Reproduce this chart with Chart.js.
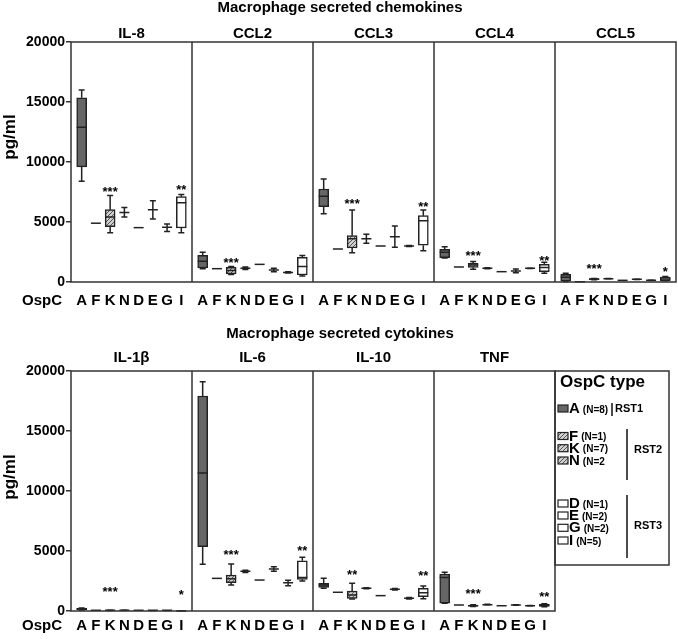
<!DOCTYPE html>
<html>
<head>
<meta charset="utf-8">
<script src="https://cdn.jsdelivr.net/npm/chart.js@4.4.0/dist/chart.umd.min.js"></script>
<style>
  body { margin: 0; background: #fff; }
  #wrap { position: relative; width: 678px; height: 639px; }
  canvas { position: absolute; left: 0; }
  #topChart { top: 0; }
  #bottomChart { top: 310px; }
</style>
</head>
<body>
<div id="wrap">
  <canvas id="topChart" width="678" height="310"></canvas>
  <canvas id="bottomChart" width="678" height="329"></canvas>
</div>
<script>
var categories = ['A', 'F', 'K', 'N', 'D', 'E', 'G', 'I'];
var nLabels = ['(N=8)', '(N=1)', '(N=7)', '(N=2', '(N=1)', '(N=2)', '(N=2)', '(N=5)'];
var chemokines = ['IL-8', 'CCL2', 'CCL3', 'CCL4', 'CCL5'];
var cytokines = ['IL-1β', 'IL-6', 'IL-10', 'TNF'];
var yTicks = [0, 5000, 10000, 15000, 20000];

// [min, q1, median, q3, max] per OspC type, pg/ml
var il8 = [[8400, 9600, 12900, 15350, 16000], [4900, 4900, 4900, 4900, 4900], [4110, 4610, 5420, 6030, 7200], [5420, 5800, 5800, 5800, 6200],
           [4530, 4530, 4530, 4530, 4530], [5250, 6030, 6030, 6030, 6780], [4200, 4560, 4560, 4560, 4830], [4110, 4500, 6610, 7110, 7300]];
var ccl2 = [[1100, 1170, 1720, 2220, 2470], [1110, 1110, 1110, 1110, 1110], [620, 680, 950, 1220, 1300], [1050, 1140, 1140, 1140, 1250],
            [1470, 1470, 1470, 1470, 1470], [850, 1000, 1000, 1000, 1150], [760, 800, 800, 800, 850], [500, 580, 1300, 2050, 2200]];
var ccl3 = [[5690, 6280, 7140, 7750, 8580], [2750, 2750, 2750, 2750, 2750], [2440, 2830, 3610, 3860, 6000], [3220, 3610, 3610, 3610, 3970],
            [3000, 3000, 3000, 3000, 3000], [2890, 3780, 3780, 3780, 4670], [2950, 3000, 3000, 3000, 3050], [2610, 3060, 5110, 5530, 6000]];
var ccl4 = [[2000, 2030, 2470, 2720, 2940], [1250, 1250, 1250, 1250, 1250], [1060, 1220, 1420, 1560, 1700], [1100, 1140, 1140, 1140, 1180],
            [860, 860, 860, 860, 860], [780, 920, 920, 920, 1080], [1120, 1140, 1140, 1140, 1160], [720, 860, 1200, 1470, 1650]];
var ccl5 = [[50, 60, 400, 640, 720], [20, 20, 20, 20, 20], [180, 200, 240, 280, 300], [260, 280, 280, 280, 300],
            [140, 140, 140, 140, 140], [200, 220, 220, 220, 240], [120, 140, 140, 140, 160], [100, 110, 240, 420, 450]];
var il1b = [[80, 100, 160, 220, 250], [60, 60, 60, 60, 60], [40, 50, 60, 70, 80], [60, 70, 70, 70, 80],
            [60, 60, 60, 60, 60], [50, 60, 60, 60, 70], [50, 60, 60, 60, 70], [0, 5, 10, 20, 30]];
var il6 = [[3890, 5360, 11500, 17920, 19100], [2720, 2720, 2720, 2720, 2720], [2170, 2360, 2690, 3000, 3920], [3200, 3310, 3310, 3310, 3400],
           [2580, 2580, 2580, 2580, 2580], [3310, 3500, 3500, 3500, 3690], [2110, 2360, 2360, 2360, 2560], [2500, 2640, 2800, 4190, 4470]];
var il10 = [[1890, 1970, 2170, 2310, 2720], [1560, 1560, 1560, 1560, 1560], [1000, 1050, 1330, 1670, 2310], [1850, 1890, 1890, 1890, 1930],
            [1280, 1280, 1280, 1280, 1280], [1750, 1810, 1810, 1810, 1870], [1000, 1060, 1060, 1060, 1120], [1030, 1190, 1530, 1890, 2080]];
var tnf = [[640, 650, 2800, 3080, 3220], [500, 500, 500, 500, 500], [380, 400, 440, 500, 520], [500, 530, 530, 530, 560],
           [440, 440, 440, 440, 440], [480, 500, 500, 500, 520], [420, 440, 440, 440, 460], [360, 380, 470, 560, 600]];

// significance vs type A: [panel, type, mark, height in pg/ml]
var chemokineStars = [[0, 'K', '***', 7780], [0, 'I', '**', 7890], [1, 'K', '***', 1830], [2, 'K', '***', 6780], [2, 'I', '**', 6500],
                      [3, 'K', '***', 2390], [3, 'I', '**', 2030], [4, 'K', '***', 1360], [4, 'I', '*', 1060]];
var cytokineStars = [[0, 'K', '***', 1810], [0, 'I', '*', 1560], [1, 'K', '***', 4940], [1, 'I', '**', 5280],
                     [2, 'K', '**', 3280], [2, 'I', '**', 3190], [3, 'K', '***', 1670], [3, 'I', '**', 1390]];

var FONT = '"Liberation Sans", Arial, Helvetica, sans-serif';
var LINE = '#222';

function makeHatch() {
    var c = document.createElement('canvas');
    c.width = 4; c.height = 4;
    var x = c.getContext('2d');
    x.fillStyle = '#cfcfcf';
    x.fillRect(0, 0, 4, 4);
    x.strokeStyle = '#555';
    x.lineWidth = 1;
    x.beginPath();
    x.moveTo(-1, 5); x.lineTo(5, -1);
    x.moveTo(-1, 1); x.lineTo(1, -1);
    x.moveTo(3, 5); x.lineTo(5, 3);
    x.stroke();
    return x.createPattern(c, 'repeat');
}
var hatch = makeHatch();

function fillFor(i) {
    if (i === 0) return '#666666';
    if (i <= 3) return hatch;
    return '#ffffff';
}

// each panel is 8.5 units wide, boxes 1 unit apart
function slot(p, i) { return p * 8.5 + 0.75 + i; }

function boxDataset(panels) {
    var pts = [], fills = [];
    panels.forEach(function (rows, p) {
        rows.forEach(function (r, i) {
            if (r[3] > r[1]) {
                pts.push({ x: slot(p, i), y: [r[1], r[3]] });
                fills.push(fillFor(i));
            }
        });
    });
    return {
        data: pts,
        backgroundColor: fills,
        borderColor: LINE,
        borderWidth: 1.5,
        borderSkipped: false,
        barThickness: 10
    };
}

function drawLegend(ctx) {
    ctx.save();
    ctx.strokeStyle = '#333';
    ctx.lineWidth = 1.5;
    ctx.strokeRect(555, 61, 114, 194);
    ctx.fillStyle = '#000';
    ctx.textAlign = 'left';
    ctx.textBaseline = 'alphabetic';
    ctx.font = 'bold 17px ' + FONT;
    ctx.fillText('OspC type', 560, 77);

    var rowY = [99, 126.5, 138.7, 151, 194, 206, 218.3, 231];
    var firstEnd = 0;
    categories.forEach(function (c, i) {
        var y = rowY[i];
        ctx.fillStyle = fillFor(i);
        ctx.fillRect(558, y - 4, 10, 7);
        ctx.lineWidth = 1.2;
        ctx.strokeStyle = LINE;
        ctx.strokeRect(558, y - 4, 10, 7);
        ctx.fillStyle = '#000';
        ctx.textBaseline = 'middle';
        ctx.font = 'bold 15px ' + FONT;
        ctx.fillText(c, 569, y);
        var w = ctx.measureText(c).width;
        ctx.font = 'bold 10px ' + FONT;
        ctx.fillText(nLabels[i], 569 + w + 3, y + 1);
        if (i === 0) firstEnd = 569 + w + 3 + ctx.measureText(nLabels[i]).width;
    });

    var barX1 = Math.round(firstEnd) + 4;
    var groups = [['RST1', barX1, 93, 106, barX1 + 3, 99], ['RST2', 627, 119, 170, 634, 140], ['RST3', 627, 185, 248, 634, 216]];
    ctx.lineWidth = 1.5;
    ctx.strokeStyle = '#111';
    ctx.font = 'bold 11px ' + FONT;
    groups.forEach(function (g) {
        ctx.beginPath();
        ctx.moveTo(g[1], g[2]);
        ctx.lineTo(g[1], g[3]);
        ctx.stroke();
        ctx.fillText(g[0], g[4], g[5]);
    });
    ctx.restore();
}

function makeChart(id, names, panels, stars, cfg) {
    var n = names.length;
    var ticksX = [];
    for (var p = 0; p < n; p++) {
        for (var i = 0; i < 8; i++) ticksX.push(slot(p, i));
    }

    var panelPlugin = {
        id: 'panels',
        afterDatasetsDraw: function (chart) {
            var ctx = chart.ctx;
            var xs = chart.scales.x, ys = chart.scales.y, area = chart.chartArea;
            ctx.save();
            ctx.strokeStyle = LINE;
            ctx.lineWidth = 1.5;

            // whiskers and medians
            panels.forEach(function (rows, p) {
                rows.forEach(function (r, i) {
                    var x = xs.getPixelForValue(slot(p, i));
                    ctx.beginPath();
                    if (r[4] > r[3]) {
                        ctx.moveTo(x, ys.getPixelForValue(r[3]));
                        ctx.lineTo(x, ys.getPixelForValue(r[4]));
                        ctx.moveTo(x - 3, ys.getPixelForValue(r[4]));
                        ctx.lineTo(x + 3, ys.getPixelForValue(r[4]));
                    }
                    if (r[1] > r[0]) {
                        ctx.moveTo(x, ys.getPixelForValue(r[1]));
                        ctx.lineTo(x, ys.getPixelForValue(r[0]));
                        ctx.moveTo(x - 3, ys.getPixelForValue(r[0]));
                        ctx.lineTo(x + 3, ys.getPixelForValue(r[0]));
                    }
                    ctx.moveTo(x - 5, ys.getPixelForValue(r[2]));
                    ctx.lineTo(x + 5, ys.getPixelForValue(r[2]));
                    ctx.stroke();
                });
            });

            // frame and panel dividers
            ctx.strokeStyle = '#333';
            ctx.strokeRect(area.left, area.top, area.right - area.left, area.bottom - area.top);
            ctx.beginPath();
            for (var p = 1; p < n; p++) {
                var dx = xs.getPixelForValue(p * 8.5);
                ctx.moveTo(dx, area.top);
                ctx.lineTo(dx, area.bottom);
            }
            ctx.stroke();

            ctx.fillStyle = '#000';
            ctx.textAlign = 'center';
            ctx.textBaseline = 'middle';
            ctx.font = 'bold 15px ' + FONT;
            ctx.fillText(cfg.title, 340, cfg.titleY);
            names.forEach(function (name, p) {
                ctx.fillText(name, xs.getPixelForValue(p * 8.5 + 4.25), cfg.panelY);
            });

            ctx.textAlign = 'left';
            ctx.fillText('OspC', 22, cfg.labelY);

            ctx.textAlign = 'center';
            ctx.textBaseline = 'alphabetic';
            ctx.font = 'bold 13px ' + FONT;
            stars.forEach(function (s) {
                var sx = xs.getPixelForValue(slot(s[0], categories.indexOf(s[1])));
                ctx.fillText(s[2], sx, ys.getPixelForValue(s[3]) + 7);
            });

            ctx.save();
            ctx.translate(10, cfg.unitY);
            ctx.rotate(-Math.PI / 2);
            ctx.textBaseline = 'middle';
            ctx.font = 'bold 17px ' + FONT;
            ctx.fillText('pg/ml', 0, 0);
            ctx.restore();

            if (cfg.legend) drawLegend(ctx);
            ctx.restore();
        }
    };

    return new Chart(document.getElementById(id), {
        type: 'bar',
        data: { datasets: [boxDataset(panels)] },
        options: {
            responsive: false,
            animation: false,
            devicePixelRatio: 1,
            layout: { padding: { top: cfg.top, right: cfg.right, bottom: 0, left: 0 } },
            plugins: { legend: { display: false }, tooltip: { enabled: false } },
            scales: {
                x: {
                    type: 'linear',
                    offset: false,
                    min: 0,
                    max: n * 8.5,
                    afterBuildTicks: function (s) { s.ticks = ticksX.map(function (v) { return { value: v }; }); },
                    afterFit: function (s) { s.height = 28; },
                    ticks: {
                        autoSkip: false,
                        maxRotation: 0,
                        padding: cfg.tickPad,
                        color: '#000',
                        font: { family: FONT, size: 15, weight: 'bold' },
                        callback: function (v, idx) { return categories[idx % 8]; }
                    },
                    grid: { display: false, drawTicks: false },
                    border: { display: false }
                },
                y: {
                    min: 0,
                    max: 20000,
                    afterBuildTicks: function (s) { s.ticks = yTicks.map(function (v) { return { value: v }; }); },
                    afterFit: function (s) { s.width = 71; },
                    ticks: {
                        padding: 1,
                        color: '#000',
                        font: { family: FONT, size: 14, weight: 'bold' },
                        callback: function (v) { return String(v); }
                    },
                    grid: { drawOnChartArea: false, drawTicks: true, tickLength: 5, color: '#333', lineWidth: 1.5 },
                    border: { display: false }
                }
            }
        },
        plugins: [panelPlugin]
    });
}

makeChart('topChart', chemokines, [il8, ccl2, ccl3, ccl4, ccl5], chemokineStars, {
    top: 42, right: 2, tickPad: 10, title: 'Macrophage secreted chemokines',
    titleY: 8, panelY: 34, labelY: 301, unitY: 137, legend: false
});
makeChart('bottomChart', cytokines, [il1b, il6, il10, tnf], cytokineStars, {
    top: 61, right: 123, tickPad: 6, title: 'Macrophage secreted cytokines',
    titleY: 24, panelY: 48, labelY: 315.5, unitY: 167, legend: true
});
</script>
</body>
</html>
